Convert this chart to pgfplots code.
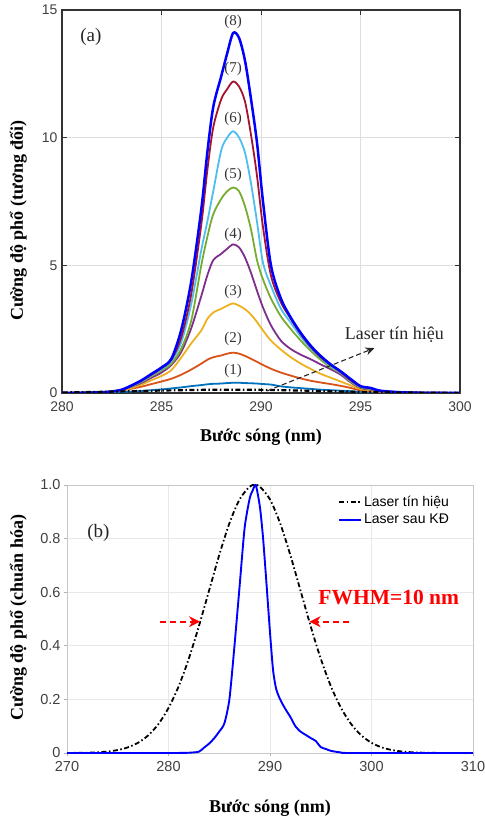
\documentclass[border=0pt]{standalone}
\usepackage{fontspec}
\setmainfont{Liberation Serif}
\setsansfont{Liberation Sans}
\usepackage{pgfplots}
\usepackage{pgfplotstable}
\pgfplotsset{compat=1.18}
\usetikzlibrary{arrows.meta}
\definecolor{c1}{HTML}{0072BD}
\definecolor{c2}{HTML}{D95319}
\definecolor{c3}{HTML}{EDB120}
\definecolor{c4}{HTML}{7E2F8E}
\definecolor{c5}{HTML}{77AC30}
\definecolor{c6}{HTML}{4DBEEE}
\definecolor{c7}{HTML}{A2142F}
\definecolor{c8}{HTML}{0000FF}

\pgfplotstableread{
x     c1   c2    c3   c4   c5   c6    c7   c8
280   0    0     0    0    0    0     0    0
281   0    0.01  0.01 0.01 0.01 0.01  0.01 0.01
282   0.01 0.03  0.03 0.03 0.03 0.03  0.03 0.03
282.5 0.02 0.05  0.05 0.06 0.06 0.06  0.06 0.06
283   0.04 0.10  0.10 0.12 0.12 0.12  0.12 0.13
283.5 0.06 0.17  0.20 0.25 0.26 0.27  0.28 0.30
284   0.08 0.25  0.33 0.40 0.44 0.46  0.48 0.50
284.5 0.11 0.35  0.50 0.60 0.66 0.70  0.72 0.75
285   0.14 0.45  0.67 0.80 0.88 0.93  0.97 1.00
285.5 0.18 0.56  0.90 1.10 1.15 1.25  1.30 1.35
286   0.22 0.72  1.40 1.62 1.75 2.00  2.20 2.50
286.5 0.27 0.92  1.95 2.55 2.85 3.50  3.90 4.40
287   0.31 1.15  2.45 3.80 5.00 5.60  6.60 7.20
287.3 0.34 1.30  2.90 4.60 6.10 6.70  8.70 9.40
287.6 0.36 1.40  3.15 5.20 7.00 7.90  10.4 11.2
288   0.37 1.47  3.30 5.45 7.60 9.50  11.5 12.4
288.3 0.39 1.54  3.42 5.65 7.90 10.0  11.9 13.3
288.6 0.40 1.58  3.51 5.82 8.05 10.25 12.2 14.1
288.9 0.40 1.54  3.42 5.70 7.90 10.0  12.0 13.9
289.2 0.39 1.45  3.28 5.30 7.30 9.40  11.4 13.0
289.5 0.38 1.34  3.07 4.70 6.40 8.20  10.1 11.5
289.8 0.37 1.22  2.78 4.00 5.20 6.70  8.50 9.80
290.1 0.35 1.10  2.45 3.35 4.45 5.10  6.50 7.50
290.5 0.33 0.95  2.05 2.65 3.70 4.20  4.60 5.00
291   0.26 0.80  1.70 2.05 3.00 3.30  3.55 3.70
291.5 0.22 0.68  1.40 1.72 2.50 2.75  2.90 2.95
292   0.19 0.57  1.15 1.50 2.05 2.20  2.30 2.35
292.5 0.16 0.48  0.94 1.32 1.65 1.75  1.80 1.85
293   0.13 0.41  0.75 1.12 1.30 1.38  1.40 1.45
293.5 0.11 0.35  0.60 0.93 1.00 1.05  1.10 1.12
294   0.09 0.28  0.45 0.72 0.78 0.80  0.82 0.85
294.5 0.07 0.20  0.30 0.42 0.45 0.48  0.50 0.55
295   0.04 0.10  0.15 0.20 0.22 0.24  0.25 0.27
295.5 0.03 0.07  0.10 0.13 0.15 0.17  0.18 0.20
296   0.01 0.04  0.05 0.06 0.07 0.08  0.08 0.09
297   0    0.015 0.02 0.02 0.03 0.03  0.03 0.03
298   0    0.005 0.01 0.01 0.01 0.01  0.01 0.01
300   0    0     0    0    0    0     0    0
}\tblA

\pgfplotstableread{
x     y
276   0.003
278   0.009
280   0.022
281   0.032
282   0.046
283   0.062
284   0.079
285   0.096
286   0.111
287   0.123
288   0.129
288.5 0.130
289   0.129
290   0.123
291   0.111
292   0.096
293   0.079
294   0.062
295   0.046
296   0.032
297   0.022
298   0.014
299   0.009
300   0.005
}\sigA

\pgfplotstableread{
x     y
270   0.0002
271   0.0005
272   0.0012
273   0.0027
274   0.0056
275   0.0111
276   0.0211
277   0.0382
278   0.0657
279   0.1077
280   0.168
281   0.249
282   0.352
283   0.474
284   0.6065
285   0.739
286   0.857
287   0.946
288   0.994
288.5 1.0
289   0.994
290   0.946
291   0.857
292   0.739
293   0.6065
294   0.474
295   0.352
296   0.249
297   0.168
298   0.1077
299   0.0657
300   0.0382
301   0.0211
302   0.0111
303   0.0056
304   0.0027
305   0.0012
306   0.0005
307   0.0002
308   0
310   0
}\sigB

\pgfplotstableread{
x     y
270   0
280   0
282   0.001
283   0.005
283.5 0.02
284   0.035
284.5 0.055
285   0.08
285.5 0.11
286   0.20
286.5 0.40
287   0.62
287.5 0.84
288   0.95
288.3 0.98
288.6 1.0
289   0.92
289.3 0.81
289.6 0.66
290   0.45
290.3 0.31
290.6 0.24
291   0.20
291.5 0.165
292   0.135
292.5 0.10
293   0.08
293.5 0.068
294   0.056
294.5 0.045
295   0.022
295.5 0.015
296   0.008
297   0.002
298   0
310   0
}\ampB

\begin{document}
\begin{tikzpicture}
\useasboundingbox (0pt,0pt) rectangle (485pt,820pt);

% ---------------- (a) ----------------
\begin{axis}[
  at={(62pt,427pt)}, anchor=south west,
  scale only axis, width=398pt, height=383pt,
  xmin=280, xmax=300, ymin=0, ymax=15,
  xtick={280,285,290,295,300}, ytick={0,5,10,15},
  grid=major, major grid style={black!13, line width=0.9pt},
  axis line style={black!80, line width=1.4pt},
  tick align=inside, major tick length=5pt,
  tick style={black!80, line width=1pt},
  /pgf/number format/assume math mode=true,
  ticklabel style={font=\sffamily\fontsize{14}{16}\selectfont, text=black!75},
  xticklabel style={yshift=-5pt},
  yticklabel style={xshift=-1pt},
  xlabel={Bước sóng (nm)},
  ylabel={Cường độ phổ (tương đối)},
  label style={font=\bfseries\fontsize{18}{20}\selectfont},
  xlabel style={at={(axis description cs:0.5,-0.115)}, anchor=center},
  ylabel style={at={(axis description cs:-0.11,0.45)}, anchor=center},
  clip=true,
]
\addplot[c1, line width=1.8pt, smooth] table[x=x,y=c1]{\tblA};
\addplot[c2, line width=1.8pt, smooth] table[x=x,y=c2]{\tblA};
\addplot[c3, line width=1.8pt, smooth] table[x=x,y=c3]{\tblA};
\addplot[c4, line width=1.8pt, smooth] table[x=x,y=c4]{\tblA};
\addplot[c5, line width=1.8pt, smooth] table[x=x,y=c5]{\tblA};
\addplot[c6, line width=1.8pt, smooth] table[x=x,y=c6]{\tblA};
\addplot[c7, line width=1.8pt, smooth] table[x=x,y=c7]{\tblA};
\addplot[c8, line width=2.5pt, smooth] table[x=x,y=c8]{\tblA};
\addplot[black, line width=2.2pt, dash pattern=on 5pt off 2.5pt on 1.5pt off 2.5pt] table[x=x,y=y]{\sigA};

\draw[black!85, line width=1.1pt, dash pattern=on 5pt off 3pt, -{Stealth[length=9pt,width=8pt]}]
  (axis cs:290.3,0.08) -- (axis cs:295.7,1.76);
\node[font=\fontsize{18}{20}\selectfont, text=black!85] at (axis cs:296.7,2.3) {Laser tín hiệu};
\node[font=\fontsize{19}{21}\selectfont, text=black!85] at (axis cs:281.45,13.95) {(a)};
\begin{scope}[every node/.style={font=\fontsize{15}{17}\selectfont, text=black!80}]
\node at (axis cs:288.6,14.55) {(8)};
\node at (axis cs:288.6,12.7) {(7)};
\node at (axis cs:288.6,10.75) {(6)};
\node at (axis cs:288.6,8.55) {(5)};
\node at (axis cs:288.6,6.2) {(4)};
\node at (axis cs:288.6,3.95) {(3)};
\node at (axis cs:288.6,2.1) {(2)};
\node at (axis cs:288.6,0.85) {(1)};
\end{scope}
\end{axis}

% ---------------- (b) ----------------
\begin{axis}[
  at={(67pt,67pt)}, anchor=south west,
  scale only axis, width=406pt, height=268pt,
  xmin=270, xmax=310, ymin=0, ymax=1,
  xtick={270,280,290,300,310}, ytick={0,0.2,0.4,0.6,0.8,1.0},
  yticklabels={0,0.2,0.4,0.6,0.8,1.0},
  grid=major, major grid style={black!9, line width=0.8pt},
  axis line style={black!22, line width=0.9pt},
  tick align=outside, major tick length=3pt, tick pos=left,
  tick style={black!30, line width=0.7pt},
  /pgf/number format/assume math mode=true,
  ticklabel style={font=\sffamily\fontsize{14.5}{16}\selectfont, text=black!75},
  xticklabel style={yshift=-2pt},
  xlabel={Bước sóng (nm)},
  ylabel={Cường độ phổ (chuẩn hóa)},
  label style={font=\bfseries\fontsize{18}{20}\selectfont},
  xlabel style={at={(axis description cs:0.5,-0.205)}, anchor=center},
  ylabel style={at={(axis description cs:-0.12,0.505)}, anchor=center},
  legend style={at={(axis description cs:0.665,0.97)}, anchor=north west,
    draw=none, fill=none, font=\sffamily\fontsize{14}{16}\selectfont,
    row sep=2pt, inner sep=1pt},
  legend cell align=left,
  legend image code/.code={\draw[#1] (0pt,0pt) -- (22pt,0pt);},
]
\addplot[black, line width=1.8pt, dash pattern=on 5pt off 2.5pt on 1.5pt off 2.5pt, smooth] table[x=x,y=y]{\sigB};
\addlegendentry{Laser tín hiệu}
\addplot[c8, line width=1.9pt, smooth, tension=0.4] table[x=x,y=y]{\ampB};
\addlegendentry{Laser sau KĐ}

\node[font=\fontsize{19}{21}\selectfont, text=black!85] at (axis cs:273.1,0.82) {(b)};
\node[font=\bfseries\fontsize{21.5}{24}\selectfont, text=red] at (axis cs:301.7,0.58) {FWHM=10 nm};
\draw[red, line width=2.3pt, dash pattern=on 6pt off 4pt, -{Stealth[length=11pt,width=11pt]}]
  (axis cs:279.2,0.49) -- (axis cs:283.1,0.49);
\draw[red, line width=2.3pt, dash pattern=on 6pt off 4pt, -{Stealth[length=11pt,width=11pt]}]
  (axis cs:297.8,0.49) -- (axis cs:293.9,0.49);
\end{axis}
\end{tikzpicture}
\end{document}
